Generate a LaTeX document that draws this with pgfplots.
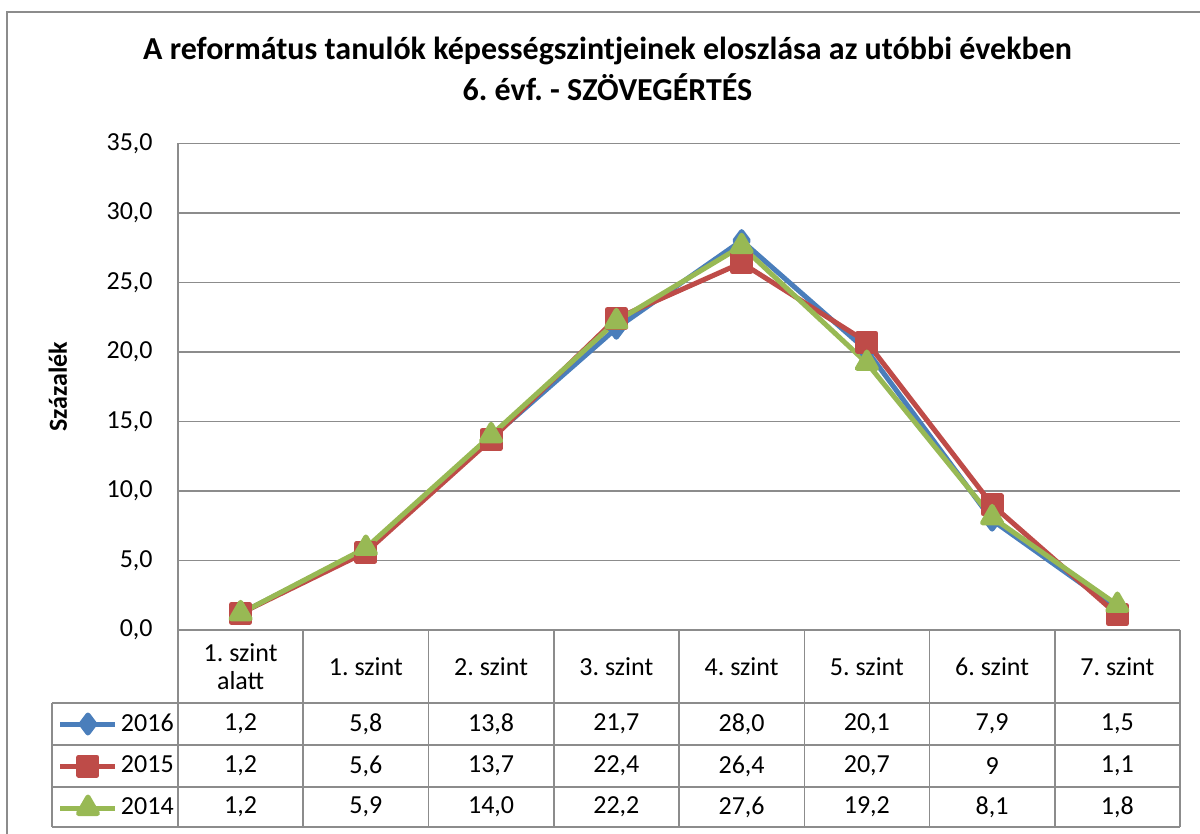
\documentclass[border=0pt]{standalone}
\usepackage{pgfplots}
\pgfplotsset{compat=1.18}
\usepackage{fontspec}
\setmainfont{Carlito}
\frenchspacing
\definecolor{c16}{HTML}{4A7EBB}
\definecolor{c15}{HTML}{BE4B48}
\definecolor{c14}{HTML}{98B954}
\definecolor{gridc}{HTML}{8C8C8C}
\newcommand{\tfont}{\fontsize{13}{15.6}\selectfont}
\begin{document}
\begin{tikzpicture}[font=\tfont]
\begin{axis}[
  at={(0pt,0pt)}, anchor=south west,
  x=62.625pt, y=6.953pt,
  xmin=-0.5, xmax=7.5, ymin=0, ymax=35,
  clip=false,
  axis x line*=bottom, axis y line*=left,
  axis line style={gridc, line width=0.75pt},
  xtick=\empty,
  ytick={0,5,...,35},
  major tick length=0pt,
  ymajorgrids, grid style={gridc, line width=0.75pt},
  yticklabel style={font=\tfont, anchor=east, inner sep=0pt, xshift=-12.5pt,
    /pgf/number format/.cd, fixed, fixed zerofill, precision=1, use comma, assume math mode=true},
  ylabel={Százalék},
  ylabel style={at={(rel axis cs:-0.1198,0.5)}, anchor=center, font=\bfseries\tfont},
  title={A református tanulók képességszintjeinek eloszlása az utóbbi években\\6. évf. - SZÖVEGÉRTÉS},
  title style={at={(rel axis cs:0.4287,1.1290)}, anchor=center, align=center,
    font=\bfseries\fontsize{16}{20.5}\selectfont},
  legend image code/.code={\draw[mark repeat=2,mark phase=2,#1] plot coordinates {(0pt,0pt) (13.75pt,0pt) (27.5pt,0pt)};},
  legend style={draw=none, fill=none, at={(-0.1198,-0.1500)}, anchor=north west,
    inner sep=0pt, outer sep=0pt, row sep=0pt, font=\tfont,
    nodes={inner xsep=1.5pt, inner ysep=0pt, minimum height=21pt}},
  legend cell align=left,
]
\addplot[c16, line width=2.5pt, line join=round, mark=diamond*, mark size=4.5pt, mark options={solid}]
  coordinates {(0,1.2) (1,5.8) (2,13.8) (3,21.7) (4,28.0) (5,20.1) (6,7.9) (7,1.5)};
\addlegendentry{2016}
\addplot[c15, line width=2.5pt, line join=round, mark=square*, mark size=4.5pt, mark options={solid}]
  coordinates {(0,1.2) (1,5.6) (2,13.7) (3,22.4) (4,26.4) (5,20.7) (6,9) (7,1.1)};
\addlegendentry{2015}
\addplot[c14, line width=2.5pt, line join=round, mark=triangle*, mark size=5.5pt, mark options={solid}]
  coordinates {(0,1.2) (1,5.9) (2,14.0) (3,22.2) (4,27.6) (5,19.2) (6,8.1) (7,1.8)};
\addlegendentry{2014}
\end{axis}
% data table below the chart
\begin{scope}[gridc, line width=0.75pt]
  \foreach \k in {0,...,8} {\draw (62.625pt*\k,0pt) -- (62.625pt*\k,-98.5pt);}
  \draw (-63pt,-36.5pt) -- (-63pt,-98.5pt);
  \foreach \yy in {-36.5,-57.5,-78.5,-98.5} {\draw (-63pt,\yy pt) -- (501pt,\yy pt);}
  \draw (0pt,0pt) -- (501pt,0pt);
\end{scope}
\node[align=center, font=\tfont, inner sep=0pt] at (31.31pt,-18.25pt) {1. szint\\[-1.5pt]alatt};
\foreach \k/\t in {1/1. szint,2/2. szint,3/3. szint,4/4. szint,5/5. szint,6/6. szint,7/7. szint}
  {\node[font=\tfont, inner sep=0pt] at (62.625pt*\k+31.31pt,-18.25pt) {\t};}
\foreach \v [count=\i from 0] in {1{,}2,5{,}8,13{,}8,21{,}7,28{,}0,20{,}1,7{,}9,1{,}5}
  {\node[font=\tfont, inner sep=0pt] at (62.625pt*\i+31.31pt,-47pt) {\v};}
\foreach \v [count=\i from 0] in {1{,}2,5{,}6,13{,}7,22{,}4,26{,}4,20{,}7,9,1{,}1}
  {\node[font=\tfont, inner sep=0pt] at (62.625pt*\i+31.31pt,-68pt) {\v};}
\foreach \v [count=\i from 0] in {1{,}2,5{,}9,14{,}0,22{,}2,27{,}6,19{,}2,8{,}1,1{,}8}
  {\node[font=\tfont, inner sep=0pt] at (62.625pt*\i+31.31pt,-88.5pt) {\v};}
% outer chart frame
\draw[gridc, line width=0.75pt] (-85.5pt,309pt) rectangle (530pt,-130pt);
\pgfresetboundingbox
\path[use as bounding box] (-89pt,-102pt) rectangle (511pt,315pt);
\end{tikzpicture}
\end{document}
